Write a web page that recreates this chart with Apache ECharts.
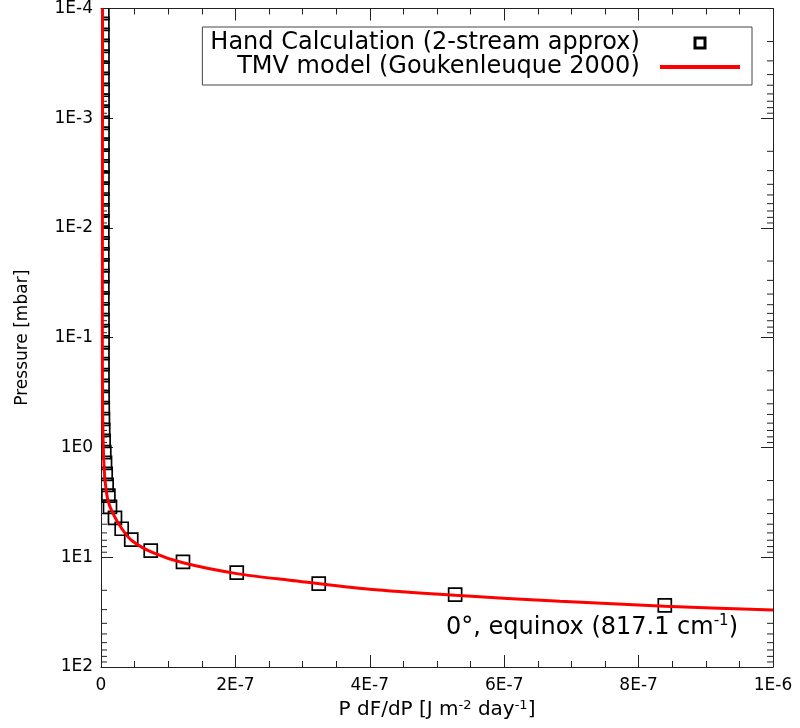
<!DOCTYPE html>
<html>
<head>
<meta charset="utf-8">
<script src="https://cdn.jsdelivr.net/npm/echarts@6/dist/echarts.min.js"></script>
<style>html,body{margin:0;padding:0;background:#fff}#c{width:800px;height:728px}</style>
</head>
<body>
<div id="c"></div>
<script>
// ---- data ----
const seriesNames = ['Hand Calculation (2-stream approx)', 'TMV model (Goukenleuque 2000)'];

// Hand calculation: pressure levels [mbar] and P dF/dP values [J m-2 day-1]
const handPressure = [
  1.10e-4,1.38e-4,1.74e-4,2.19e-4,2.75e-4,3.47e-4,4.37e-4,5.50e-4,6.92e-4,8.71e-4,
  1.10e-3,1.38e-3,1.74e-3,2.19e-3,2.75e-3,3.47e-3,4.37e-3,5.50e-3,6.92e-3,8.71e-3,
  1.10e-2,1.38e-2,1.74e-2,2.19e-2,2.75e-2,3.47e-2,4.37e-2,5.50e-2,6.92e-2,8.71e-2,
  1.10e-1,1.38e-1,1.74e-1,2.19e-1,2.75e-1,3.47e-1,4.37e-1,5.50e-1,6.92e-1,8.71e-1,
  1.10,1.38,1.74,2.19,2.75,3.47,4.37,5.50,6.92,8.71,
  11.0,13.8,17.4,21.9,27.5
];
const handFlux = [
  2.0e-9,2.1e-9,2.1e-9,2.2e-9,2.2e-9,2.2e-9,2.2e-9,2.3e-9,2.3e-9,2.3e-9,
  2.3e-9,2.3e-9,2.2e-9,2.2e-9,2.2e-9,2.2e-9,2.1e-9,2.1e-9,2.1e-9,2.1e-9,
  2.0e-9,2.0e-9,2.0e-9,2.0e-9,2.0e-9,2.0e-9,2.0e-9,2.1e-9,2.2e-9,2.4e-9,
  2.3e-9,2.2e-9,2.2e-9,2.2e-9,2.3e-9,2.4e-9,2.6e-9,2.9e-9,3.3e-9,3.9e-9,
  4.9e-9,6.0e-9,7.0e-9,8.4e-9,1.10e-8,1.34e-8,2.08e-8,3.08e-8,4.5e-8,7.4e-8,
  1.22e-7,2.02e-7,3.24e-7,5.27e-7,8.39e-7
];

// TMV model curve
const modelPressure = [1e-4,1e-3,1e-2,1e-1,0.3,0.6,1.0,1.5,2.0,3.05,4.0,5.47,7.03,8.97,11.3,14.1,16.2,19.6,22.2,25.2,27.9,30.3];
const modelFlux = [2.3e-9,2.2e-9,2.1e-9,2.0e-9,2.2e-9,2.7e-9,3.4e-9,4.6e-9,6.0e-9,1.04e-8,1.79e-8,3.08e-8,4.57e-8,7.54e-8,1.235e-7,2.02e-7,2.81e-7,4.0e-7,5.27e-7,6.83e-7,8.39e-7,1.0e-6];

// tick labels and log minor tick values
const xTickLabels = ['0','2E-7','4E-7','6E-7','8E-7','1E-6'];
const yTickLabels = ['1E-4','1E-3','1E-2','1E-1','1E0','1E1','1E2'];
const yMinorTicks = [
  2e-4,3e-4,4e-4,5e-4,6e-4,7e-4,8e-4,9e-4,
  2e-3,3e-3,4e-3,5e-3,6e-3,7e-3,8e-3,9e-3,
  2e-2,3e-2,4e-2,5e-2,6e-2,7e-2,8e-2,9e-2,
  2e-1,3e-1,4e-1,5e-1,6e-1,7e-1,8e-1,9e-1,
  2,3,4,5,6,7,8,9,
  20,30,40,50,60,70,80,90
];
const xRange = [0, 1e-6];

// ---- chart ----
const font = 'DejaVu Sans';
const axisColor = '#222';

function xFmt(v){ return xTickLabels[Math.round(v/2e-7)] || ''; }
function yFmt(v){ return yTickLabels[Math.round(Math.log10(v))+4] || ''; }

const xBase = {
  type:'value', min:xRange[0], max:xRange[1], interval:2e-7,
  axisLine:{show:true, onZero:false, lineStyle:{color:axisColor, width:1}},
  axisTick:{show:true, inside:true, length:12, lineStyle:{color:axisColor, width:1}},
  minorTick:{show:true, splitNumber:4, length:6, lineStyle:{color:axisColor, width:1}},
  splitLine:{show:false}, minorSplitLine:{show:false}
};
const yBase = {
  type:'log', logBase:10, min:1e-4, max:1e2, inverse:true,
  axisLine:{show:true, onZero:false, lineStyle:{color:axisColor, width:1}},
  axisTick:{show:true, inside:true, length:12, lineStyle:{color:axisColor, width:1}},
  minorTick:{show:false},
  splitLine:{show:false}, minorSplitLine:{show:false}
};

const chart = echarts.init(document.getElementById('c'), null, {renderer:'canvas'});
chart.setOption({
  animation:false,
  backgroundColor:'#fff',
  grid:{left:101, right:27, top:5, bottom:61, containLabel:false},
  xAxis:[
    Object.assign({}, xBase, {
      position:'bottom',
      axisLabel:{formatter:xFmt, margin:10, fontSize:17, color:'#000', fontFamily:font, showMinLabel:true, showMaxLabel:true},
      name:'P dF/dP [J m{sup|-2} day{sup|-1}]',
      nameLocation:'middle', nameGap:32,
      nameTextStyle:{fontSize:20, color:'#000', fontFamily:font, lineHeight:22,
        rich:{sup:{fontSize:13, fontFamily:font, color:'#000', verticalAlign:'top', lineHeight:13}}}
    }),
    Object.assign({}, xBase, {position:'top', axisLabel:{show:false}})
  ],
  yAxis:[
    Object.assign({}, yBase, {
      position:'left',
      axisLabel:{formatter:yFmt, margin:8, fontSize:17, color:'#000', fontFamily:font, showMinLabel:true, showMaxLabel:true},
      name:'Pressure [mbar]', nameLocation:'middle', nameGap:70,
      nameTextStyle:{fontSize:17, color:'#000', fontFamily:font}
    }),
    Object.assign({}, yBase, {position:'right', axisLabel:{show:false}})
  ],
  legend:{
    orient:'vertical', right:48, top:27, align:'right',
    itemWidth:80, itemHeight:10, itemGap:0,
    padding:[4,12,6,8], borderColor:'#444', borderWidth:1, backgroundColor:'#fff',
    selectedMode:false,
    formatter:function(n){ return n + '  '; },
    textStyle:{fontSize:24, color:'#000', fontFamily:font, lineHeight:22},
    data:[
      {name:seriesNames[0], icon:'path://M0,0H10V10H0Z', itemStyle:{color:'#fff', borderColor:'#000', borderWidth:3}},
      {name:seriesNames[1], icon:'path://M0,0H80V4H0Z', itemStyle:{color:'#ff0000', borderWidth:0}}
    ]
  },
  graphic:[{
    type:'text', right:62, top:614, z:100,
    style:{
      text:'0°, equinox (817.1 cm{sup|-1})',
      fontSize:24, fontFamily:font, fill:'#000', lineHeight:27,
      rich:{sup:{fontSize:15, fontFamily:font, fill:'#000', verticalAlign:'top', lineHeight:15}}
    }
  }],
  series:[
    {
      type:'custom', name:'yMinorTicks', coordinateSystem:'cartesian2d',
      xAxisIndex:0, yAxisIndex:0, clip:false, silent:true, z:1,
      data: yMinorTicks.map(function(v){ return [xRange[0], v]; }),
      encode:{x:0, y:1},
      renderItem:function(params, api){
        const l = api.coord([xRange[0], api.value(1)]);
        const r = api.coord([xRange[1], api.value(1)]);
        const st = {stroke:axisColor, lineWidth:1};
        return {type:'group', children:[
          {type:'line', shape:{x1:l[0], y1:l[1], x2:l[0]+6, y2:l[1]}, style:st},
          {type:'line', shape:{x1:r[0], y1:r[1], x2:r[0]-6, y2:r[1]}, style:st}
        ]};
      }
    },
    {
      type:'custom', name:seriesNames[0], coordinateSystem:'cartesian2d',
      xAxisIndex:0, yAxisIndex:0, clip:true, z:2,
      data: handFlux.map(function(x,i){ return [x, handPressure[i]]; }),
      encode:{x:0, y:1},
      renderItem:function(params, api){
        const c = api.coord([api.value(0), api.value(1)]);
        const s = 13;
        return {type:'rect', shape:{x:c[0]-s/2, y:c[1]-s/2, width:s, height:s},
                style:{fill:'none', stroke:'#000', lineWidth:1.7}};
      }
    },
    {
      type:'line', name:seriesNames[1], xAxisIndex:0, yAxisIndex:0, z:3,
      data: modelFlux.map(function(x,i){ return [x, modelPressure[i]]; }),
      symbol:'none', showSymbol:false, smooth:0.3, clip:true,
      lineStyle:{color:'#ff0000', width:3}, itemStyle:{color:'#ff0000'}
    }
  ]
});
</script>
</body>
</html>
